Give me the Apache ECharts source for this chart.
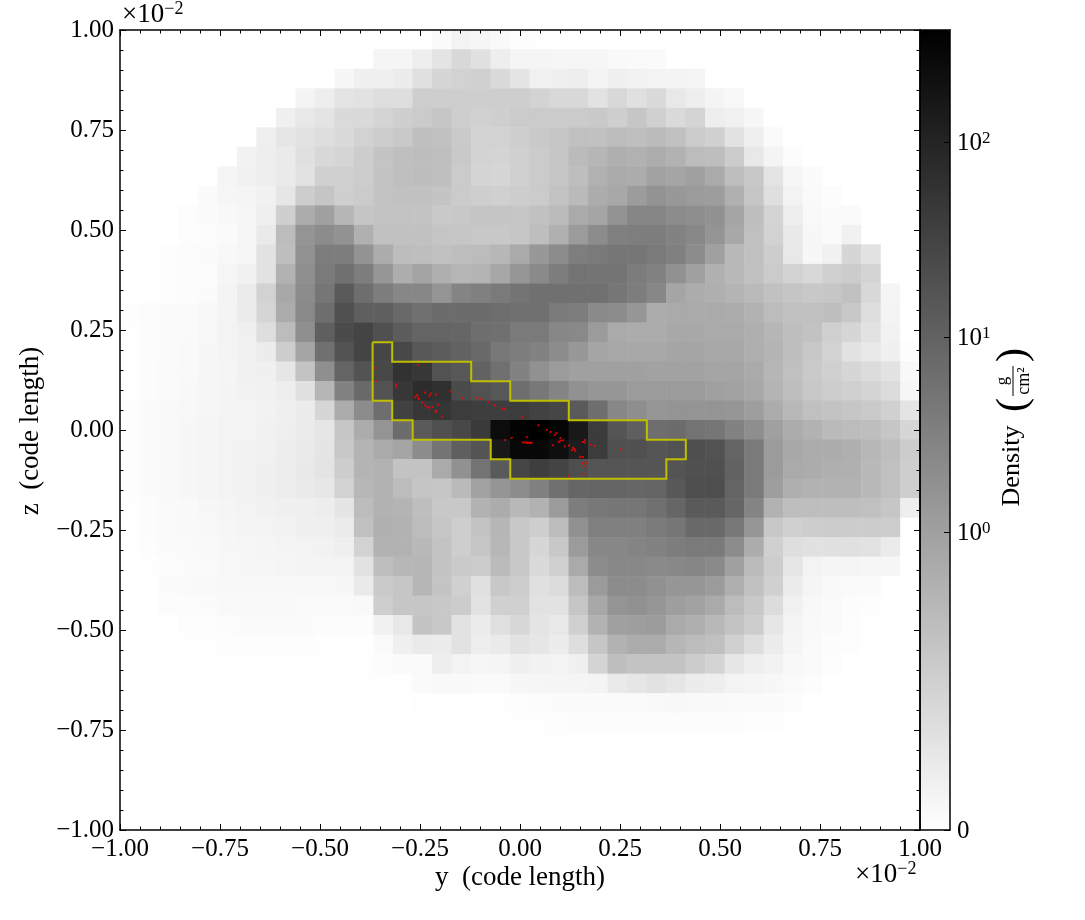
<!DOCTYPE html>
<html><head><meta charset="utf-8">
<style>html,body{margin:0;padding:0;background:#fff}#c{width:1085px;height:920px}</style>
<script src="https://cdn.jsdelivr.net/npm/echarts@6/dist/echarts.min.js"></script>
</head><body><div id="c"></div>
<script>
// Shade read from each cell of the projected density map, top row first (255 = zero density, 0 = colour-bar top)
const row00=[255,255,255,255,255,255,255,255,255,255,255,255,255,255,255,255,251,243,246,249,253,254,254,255,255,255,255,255,255,255,255,255,255,255,255,255,255,255,255,255,255];
const row01=[255,255,255,255,255,255,255,255,255,255,255,255,255,245,245,238,228,216,225,238,245,245,246,246,246,249,250,250,255,255,255,255,255,255,255,255,255,255,255,255,255];
const row02=[255,255,255,255,255,255,255,255,255,255,255,247,240,240,236,224,214,210,208,218,229,241,240,238,244,240,242,243,244,245,255,255,255,255,255,255,255,255,255,255,255];
const row03=[255,255,255,255,255,255,255,255,255,244,238,228,226,222,222,206,206,206,206,206,206,211,216,216,226,216,224,218,232,238,244,248,255,255,255,255,255,255,255,255,255];
const row04=[255,255,255,255,255,255,255,255,240,232,228,218,218,212,207,203,198,206,209,207,203,203,203,203,201,207,198,208,218,212,238,241,247,255,255,255,255,255,255,255,255];
const row05=[255,255,255,255,255,255,255,239,230,226,222,218,210,205,201,191,193,202,210,210,206,201,198,192,193,188,191,187,192,203,208,226,239,250,255,255,255,255,255,255,255];
const row06=[255,255,255,255,255,255,242,238,234,224,216,213,205,196,191,189,191,201,211,212,208,203,198,187,182,175,177,173,178,188,190,204,232,244,252,255,255,255,255,255,255];
const row07=[255,255,255,255,255,245,241,238,234,226,208,208,205,196,191,189,191,203,212,214,208,203,198,190,177,170,172,162,165,160,170,190,200,228,246,251,255,255,255,255,255];
const row08=[255,255,255,255,251,246,245,241,230,205,197,207,203,196,193,193,196,203,206,208,205,203,195,186,172,168,156,147,152,155,157,176,198,223,243,250,252,255,255,255,255];
const row09=[255,255,255,253,251,248,246,239,207,172,160,182,197,195,195,196,201,200,197,197,198,193,187,170,165,147,134,134,140,142,145,165,190,212,238,249,251,250,255,255,255];
const row10=[255,255,255,253,252,250,246,234,188,148,140,146,176,193,193,193,197,198,200,200,198,190,176,155,140,128,126,125,130,136,148,168,192,210,233,247,250,241,255,255,255];
const row11=[255,255,253,252,251,248,246,226,190,146,125,125,147,172,189,190,193,190,188,183,170,152,140,126,122,118,118,122,128,140,160,185,192,205,232,247,241,214,226,255,255];
const row12=[255,255,253,252,252,246,241,226,178,143,122,112,125,150,174,164,175,182,180,167,150,138,125,115,116,116,124,130,145,160,176,185,193,203,210,216,208,204,212,255,255];
const row13=[255,255,253,252,251,244,235,210,168,140,118,90,110,125,135,135,148,132,128,122,116,112,112,112,112,118,125,135,165,172,175,180,186,193,197,200,198,193,216,245,255];
const row14=[253,252,251,250,248,244,236,213,172,137,110,80,95,95,105,112,108,108,108,110,112,112,122,125,138,140,150,172,170,170,170,172,178,188,192,192,190,200,222,244,255];
const row15=[254,252,251,250,248,243,240,222,188,143,95,75,68,80,92,100,100,102,110,112,122,122,135,137,155,170,172,172,168,168,170,170,175,182,190,194,208,214,226,242,255];
const row16=[254,252,251,249,247,244,241,236,205,165,112,83,68,70,72,88,92,98,105,120,125,130,140,152,165,168,168,168,165,165,168,168,175,180,190,200,210,226,232,240,253];
const row17=[254,252,250,249,247,245,241,240,230,195,143,100,83,72,50,55,82,88,98,112,130,145,155,160,160,160,160,162,162,162,165,165,170,182,192,202,208,214,220,226,248];
const row18=[254,252,250,248,246,244,242,241,238,225,182,130,105,83,55,44,48,75,82,88,110,120,132,145,150,150,155,155,155,155,160,162,168,180,190,200,205,208,212,220,246];
const row19=[253,251,249,248,246,244,243,242,239,236,214,172,140,110,65,55,53,60,62,62,60,66,70,90,110,135,142,150,148,148,148,150,158,172,184,192,195,198,202,208,228];
const row20=[253,251,249,247,245,243,243,241,239,235,230,198,172,148,108,90,80,72,58,12,3,0,5,25,60,85,95,110,108,115,118,130,142,160,172,178,186,188,190,198,214];
const row21=[253,251,249,247,245,243,242,241,237,234,229,200,180,170,165,140,116,95,84,25,8,8,15,30,60,80,80,85,82,78,82,100,122,155,168,172,172,175,183,190,204];
const row22=[253,251,249,247,245,243,242,240,237,233,228,205,180,178,195,195,170,145,115,90,70,62,68,78,85,85,85,86,84,80,80,98,122,155,170,172,175,176,185,192,206];
const row23=[253,251,249,247,245,243,242,240,237,234,231,210,183,178,188,197,198,186,162,149,140,128,112,102,100,100,102,100,88,78,78,100,122,158,175,178,178,178,185,192,206];
const row24=[254,252,250,249,247,245,243,241,240,239,237,229,188,178,180,190,200,200,178,172,185,178,155,125,120,118,118,112,102,90,90,102,132,178,190,190,190,190,192,198,238];
const row25=[255,252,250,249,248,246,244,243,242,240,239,235,192,176,178,188,198,206,195,182,200,206,188,145,128,128,128,122,118,105,105,120,150,200,208,205,203,204,204,205,255];
const row26=[255,253,251,250,249,247,246,245,244,243,242,239,210,178,178,185,195,206,198,183,200,214,200,155,135,135,132,130,125,122,122,140,172,208,222,225,225,224,226,235,255];
const row27=[255,254,252,251,250,248,247,246,245,244,244,243,226,190,183,182,195,202,204,187,200,218,208,170,140,136,136,138,136,134,138,160,187,205,230,243,245,245,246,247,255];
const row28=[255,255,251,250,249,248,248,248,248,248,248,247,234,202,198,182,196,208,224,200,205,224,220,188,155,140,140,145,150,150,155,175,192,208,236,245,249,250,251,255,255];
const row29=[255,255,252,252,251,249,249,249,249,250,250,250,249,206,198,198,200,204,226,208,208,226,226,198,168,148,145,150,158,162,170,188,200,220,241,248,250,252,253,255,255];
const row30=[255,255,255,253,253,252,251,251,251,251,252,252,252,241,232,196,200,226,236,224,215,228,232,208,178,160,158,156,170,175,184,195,205,230,244,249,250,253,255,255,255];
const row31=[255,255,255,254,254,253,253,253,253,253,254,254,254,250,240,234,236,226,238,234,226,230,236,222,198,178,172,172,182,188,192,208,222,236,245,250,252,253,255,255,255];
const row32=[255,255,255,255,254,254,254,254,254,254,254,254,254,252,250,250,238,243,246,245,240,242,243,240,212,190,195,195,195,204,212,230,238,242,248,250,253,255,255,255,255];
const row33=[255,255,255,255,255,255,255,255,255,255,255,254,254,254,254,250,249,249,250,250,247,246,245,245,244,234,230,226,230,236,238,243,245,247,250,252,255,255,255,255,255];
const row34=[255,255,255,255,255,255,255,255,255,255,255,255,255,255,255,254,254,254,254,254,253,252,251,251,251,250,250,249,248,249,249,250,250,251,252,255,255,255,255,255,255];
const row35=[255,255,255,255,255,255,255,255,255,255,255,255,255,255,255,255,254,254,254,254,254,254,253,252,252,252,252,252,252,252,252,252,253,253,255,255,255,255,255,255,255];
const row36=[255,255,255,255,255,255,255,255,255,255,255,255,255,255,255,255,255,255,255,255,254,254,254,254,254,254,254,254,254,254,254,254,255,255,255,255,255,255,255,255,255];
const row37=[255,255,255,255,255,255,255,255,255,255,255,255,255,255,255,255,255,255,255,255,255,255,254,254,254,254,254,254,254,254,254,255,255,255,255,255,255,255,255,255,255];
const row38=[255,255,255,255,255,255,255,255,255,255,255,255,255,255,255,255,255,255,255,255,255,255,255,255,255,255,255,255,255,255,255,255,255,255,255,255,255,255,255,255,255];
const row39=row38.slice();
const row40=row38.slice();
const rows=[row00,row01,row02,row03,row04,row05,row06,row07,row08,row09,row10,row11,row12,row13,row14,row15,row16,row17,row18,row19,row20,row21,row22,row23,row24,row25,row26,row27,row28,row29,row30,row31,row32,row33,row34,row35,row36,row37,row38,row39,row40];

// Contour of the selected region, in axis units (x 10^-2)
const contourY=[-0.3685,-0.3195,-0.3195,-0.1220,-0.1220,-0.0244,-0.0244,0.1220,0.1220,0.3171,0.3171,0.4146,0.4146,0.3659,0.3659,-0.0244,-0.0244,-0.0732,-0.0732,-0.2683,-0.2683,-0.3195,-0.3195,-0.3685,-0.3685];
const contourZ=[0.2195,0.2195,0.1707,0.1707,0.1220,0.1220,0.0732,0.0732,0.0244,0.0244,-0.0244,-0.0244,-0.0732,-0.0732,-0.1220,-0.1220,-0.0732,-0.0732,-0.0244,-0.0244,0.0244,0.0244,0.0732,0.0732,0.2195];

// Red particles, in axis units (x 10^-2)
const particleY=[-0.361,-0.358,-0.254,-0.31,-0.31,-0.2575,-0.262,-0.255,-0.2525,-0.2375,-0.223,-0.226,-0.21,-0.173,-0.245,-0.2375,-0.231,-0.227,-0.219,-0.204,-0.209,-0.211,-0.194,-0.145,-0.109,-0.098,-0.08,-0.063,-0.043,-0.038,0.005,0.046,0.067,0.076,0.091,0.087,0.101,0.108,0.101,0.097,-0.037,-0.021,0.017,0.007,0.012,0.017,0.021,0.025,0.029,0.082,0.112,0.1225,0.133,0.136,0.13,0.138,0.1575,0.1625,0.1625,0.175,0.187,0.25,0.15,0.157,0.164,0.155,0.161,0.158,0.121];
const particleZ=[0.155,0.1225,0.162,0.114,0.108,0.0875,0.082,0.081,0.0775,0.094,0.091,0.086,0.089,0.096,0.069,0.061,0.0575,0.055,0.058,0.063,0.048,0.045,0.034,0.08,0.08,0.0775,0.07,0.0625,0.054,0.0525,0.032,0.012,0,-0.005,-0.008,-0.012,-0.02,-0.026,-0.027,-0.03,-0.025,-0.02,-0.018,-0.031,-0.031,-0.032,-0.032,-0.032,-0.032,-0.038,-0.041,-0.039,-0.044,-0.0475,-0.05,-0.052,-0.03,-0.025,-0.031,-0.036,-0.04,-0.049,-0.067,-0.0675,-0.082,-0.083,-0.09,-0.11,-0.116];

// Colour-bar ticks, given as positions on the 0-255 shade range
const cbarTickPos=[0,95,157.1,219.3];
const cbarTickLab=['0','10{s|0}','10{s|1}','10{s|2}'];
const axisTitleX='y  (code length)';
const axisTitleY='z  (code length)';

const FONT='"Liberation Serif","Times New Roman",serif';
const cells=[];
rows.forEach((r,ri)=>r.forEach((g,ci)=>cells.push([ci,ri,255-g])));
const idx=Array.from({length:41},(_,i)=>String(i));
const pts=particleY.map((y,i)=>[y,particleZ[i]]);
const contour=contourY.map((y,i)=>[y,contourZ[i]]);
const fmt=v=>v.toFixed(2).replace('-','\u2212');

function valueAxis(extra){
  return Object.assign({type:'value',gridIndex:1,min:-1,max:1,interval:0.25,z:6,
    splitLine:{show:false},
    axisLine:{show:true,onZero:false,lineStyle:{color:'#000',width:1.5}},
    axisTick:{show:true,inside:true,length:6,lineStyle:{color:'#000',width:1}},
    minorTick:{show:true,splitNumber:5,length:3.5,lineStyle:{color:'#000',width:1}},
    axisLabel:{show:false}},extra);
}
const labelStyle={show:true,fontFamily:FONT,fontSize:25,color:'#000',formatter:fmt};

const chart=echarts.init(document.getElementById('c'),null,{renderer:'canvas'});
chart.setOption({
  animation:false,backgroundColor:'#fff',
  grid:[
    {left:120,top:30,width:800,height:800},
    {left:120,top:30,width:800,height:800},
    {left:920,top:30,width:30,height:800}
  ],
  xAxis:[
    {type:'category',gridIndex:0,data:idx,show:false},
    valueAxis({position:'bottom',axisLabel:Object.assign({margin:7},labelStyle)}),
    valueAxis({position:'top'}),
    {type:'value',gridIndex:2,min:0,max:1,show:true,position:'bottom',z:6,splitLine:{show:false},
      axisLine:{show:true,onZero:false,lineStyle:{color:'#000',width:1.5}},axisTick:{show:false},axisLabel:{show:false}},
    {type:'value',gridIndex:2,min:0,max:1,show:true,position:'top',z:6,splitLine:{show:false},
      axisLine:{show:true,onZero:false,lineStyle:{color:'#000',width:1.5}},axisTick:{show:false},axisLabel:{show:false}}
  ],
  yAxis:[
    {type:'category',gridIndex:0,data:idx,inverse:true,show:false},
    valueAxis({position:'left',axisLabel:Object.assign({margin:6,padding:[4,0,0,0]},labelStyle)}),
    valueAxis({position:'right'}),
    {type:'value',gridIndex:2,min:0,max:255,position:'left',z:6,splitLine:{show:false},
      axisLine:{show:true,onZero:false,lineStyle:{color:'#000',width:1.5}},axisTick:{show:false},axisLabel:{show:false}},
    {type:'value',gridIndex:2,min:0,max:255,position:'right',z:6,splitLine:{show:false},
      axisLine:{show:true,onZero:false,lineStyle:{color:'#000',width:1.5}},
      axisTick:{show:true,inside:true,length:6,customValues:cbarTickPos,lineStyle:{color:'#000',width:1}},
      axisLabel:{show:true,margin:7,padding:[3,0,0,0],fontFamily:FONT,fontSize:25,color:'#000',customValues:cbarTickPos,
        formatter:v=>cbarTickLab[cbarTickPos.indexOf(v)],
        rich:{s:{fontFamily:FONT,fontSize:17,color:'#000',padding:[0,0,10,0]}}}}
  ],
  visualMap:{type:'continuous',seriesIndex:0,dimension:2,min:0,max:255,left:920,top:30,itemWidth:30,itemHeight:800,
    padding:0,calculable:false,hoverLink:false,text:null,inRange:{color:['#ffffff','#000000']},z:3},
  series:[
    {type:'heatmap',xAxisIndex:0,yAxisIndex:0,data:cells,silent:true,z:1,progressive:0,itemStyle:{borderWidth:0}},
    {type:'line',xAxisIndex:1,yAxisIndex:1,data:contour,symbol:'none',silent:true,z:4,
      lineStyle:{color:'#bfbf00',width:2,join:'miter'}},
    {type:'scatter',xAxisIndex:1,yAxisIndex:1,data:pts,symbol:'rect',symbolSize:2,silent:true,z:5,
      itemStyle:{color:'#ff0000'}},
    {type:'scatter',xAxisIndex:3,yAxisIndex:3,data:[],silent:true}
  ],
  graphic:[
    {type:'text',x:520,y:878,silent:true,style:{text:axisTitleX,font:'27px '+FONT,fill:'#000',align:'center',verticalAlign:'middle'}},
    {type:'text',x:31,y:431,rotation:Math.PI/2,silent:true,style:{text:axisTitleY,font:'27px '+FONT,fill:'#000',align:'center',verticalAlign:'middle'}},
    {type:'text',x:122,y:15,silent:true,style:{text:'\u00d710{s|\u22122}',font:'27px '+FONT,fill:'#000',align:'left',verticalAlign:'middle',rich:{s:{font:'18px '+FONT,fill:'#000',padding:[0,0,11,0]}}}},
    {type:'text',x:855,y:875,silent:true,style:{text:'\u00d710{s|\u22122}',font:'27px '+FONT,fill:'#000',align:'left',verticalAlign:'middle',rich:{s:{font:'18px '+FONT,fill:'#000',padding:[0,0,11,0]}}}},
    {type:'group',x:1012,y:430,rotation:Math.PI/2,silent:true,children:[
      {type:'text',x:-36,y:0,style:{text:'Density',font:'26px '+FONT,fill:'#000',align:'center',verticalAlign:'middle'}},
      {type:'text',x:25,y:2,style:{text:'(',font:'200 42px '+FONT,fill:'#000',align:'center',verticalAlign:'middle'}},
      {type:'text',x:49,y:-9,style:{text:'g',font:'17px '+FONT,fill:'#000',align:'center',verticalAlign:'middle'}},
      {type:'line',shape:{x1:34,y1:1,x2:64,y2:1},style:{stroke:'#000',lineWidth:1}},
      {type:'text',x:49,y:12,style:{text:'cm\u00b2',font:'18px '+FONT,fill:'#000',align:'center',verticalAlign:'middle'}},
      {type:'text',x:75,y:2,style:{text:')',font:'200 42px '+FONT,fill:'#000',align:'center',verticalAlign:'middle'}}
    ]}
  ]
});
</script></body></html>
